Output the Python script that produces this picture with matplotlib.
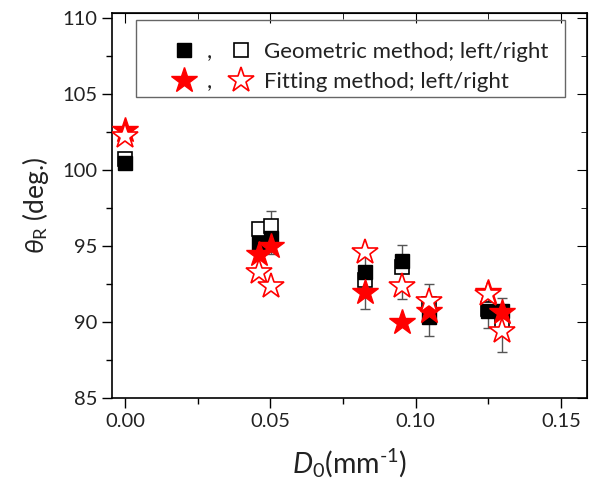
import matplotlib
matplotlib.use("Agg")
import matplotlib.pyplot as plt
from matplotlib.ticker import MultipleLocator, FormatStrFormatter
from matplotlib.patches import Rectangle

# --- Data ---
d0 = [0.0, 0.0462, 0.0503, 0.0826, 0.0952, 0.1046, 0.1250, 0.1296]

geo_left = [100.45, 95.2, 95.5, 93.3, 94.0, 90.35, 90.75, 90.75]
geo_right = [100.75, 96.1, 96.3, 92.8, 93.6, 91.2, 90.85, 89.9]
geo_err_lo = [0.0, 0.0, 1.05, 2.4, 2.5, 1.25, 1.15, 2.7]
geo_err_hi = [0.0, 0.0, 1.8, 1.2, 1.1, 2.15, 1.1, 0.85]

fit_left = [102.6, 94.45, 95.0, 92.0, 90.0, 90.75, 92.0, 90.65]
fit_right = [102.2, 93.3, 92.4, 94.6, 92.4, 91.4, 91.85, 89.45]

plt.rcParams['font.family'] = ['Lato', 'DejaVu Sans']
plt.rcParams['mathtext.fontset'] = 'custom'
plt.rcParams['mathtext.rm'] = 'Lato'
plt.rcParams['mathtext.it'] = 'Lato:italic'

fig = plt.figure(figsize=(5.92, 4.87), dpi=100)
ax = fig.add_axes([0.189, 0.182, 0.803, 0.791])

# open squares under the filled ones
sq_open, = ax.plot(d0, geo_right, ls='none', marker='s', ms=9.5, mfc='white',
                   mec='black', mew=1.2, zorder=3)
ax.errorbar(d0, geo_left, yerr=[geo_err_lo, geo_err_hi], fmt='none',
            ecolor='#555555', elinewidth=1, capsize=3.5, capthick=1, zorder=2)
sq_fill, = ax.plot(d0, geo_left, ls='none', marker='s', ms=9.5, mfc='black',
                   mec='black', zorder=4)
st_fill, = ax.plot(d0, fit_left, ls='none', marker='*', ms=19, mfc='red',
                   mec='red', zorder=5)
st_open, = ax.plot(d0, fit_right, ls='none', marker='*', ms=19, mfc='white',
                   mec='red', mew=1.2, zorder=6)

ax.set_xlim(-0.0045, 0.159)
ax.set_ylim(85, 110.3)
ax.xaxis.set_major_locator(MultipleLocator(0.05))
ax.xaxis.set_minor_locator(MultipleLocator(0.025))
ax.yaxis.set_major_locator(MultipleLocator(5))
ax.yaxis.set_minor_locator(MultipleLocator(2.5))
ax.xaxis.set_major_formatter(FormatStrFormatter('%.2f'))

ax.tick_params(which='major', direction='out', length=7, width=1, labelsize=14.5,
               labelcolor='#222222')
ax.tick_params(which='minor', direction='out', length=4, width=1)

# mirrored inward ticks on top and right
top = ax.secondary_xaxis('top')
top.xaxis.set_major_locator(MultipleLocator(0.05))
top.xaxis.set_minor_locator(MultipleLocator(0.025))
top.tick_params(which='major', direction='in', length=7, labeltop=False)
top.tick_params(which='minor', direction='in', length=4)
right = ax.secondary_yaxis('right')
right.yaxis.set_major_locator(MultipleLocator(5))
right.yaxis.set_minor_locator(MultipleLocator(2.5))
right.tick_params(which='major', direction='in', length=7, labelright=False)
right.tick_params(which='minor', direction='in', length=4)

for s in ax.spines.values():
    s.set_linewidth(1.2)

ax.set_xlabel(r'$\mathit{D}_\mathrm{0}$(mm$^{\text{-1}}$)', fontsize=20.5, labelpad=12,
              color='#222222')
ax.set_ylabel(r'$\mathit{\theta}_\mathrm{R}$ (deg.)', fontsize=19, labelpad=8,
              color='#222222')

# legend frame drawn separately, entries placed inside it
ax.add_patch(Rectangle((0.0505, 0.782), 0.9035, 0.2, transform=ax.transAxes,
                       fill=False, edgecolor='#666666', lw=1.0, zorder=7))

# first column holds the filled markers with a comma, second the open ones
leg = ax.legend([sq_fill, st_fill, sq_open, st_open],
                [',', ',', 'Geometric method; left/right', 'Fitting method; left/right'],
                ncol=2, loc='upper left', bbox_to_anchor=(0.077, 0.978),
                fontsize=16, frameon=False, labelcolor='#222222',
                handlelength=1.4, handletextpad=0.34, columnspacing=0.6,
                borderpad=0.4, labelspacing=0.45, markerscale=1.0)

fig.savefig('out.png', dpi=100)
